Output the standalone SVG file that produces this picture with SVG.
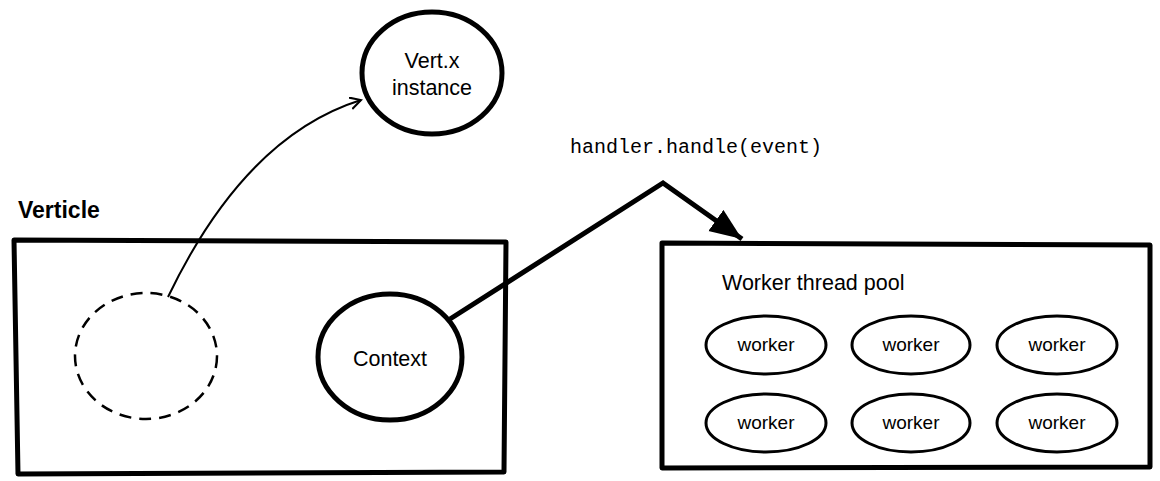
<svg xmlns="http://www.w3.org/2000/svg" width="1160" height="481" viewBox="0 0 1160 481">
<style>
.sans{font-family:"Liberation Sans",Arial,sans-serif;fill:#000}
.mono{font-family:"Liberation Mono","Courier New",monospace;fill:#000}
.box{fill:none;stroke:#000;stroke-width:5;stroke-linejoin:round;stroke-linecap:round}
.thick{fill:none;stroke:#000;stroke-width:5}
.worker{fill:none;stroke:#000;stroke-width:3}
.wl{font-size:19px}
</style>
<defs>
<marker id="open" markerWidth="14" markerHeight="14" refX="11" refY="6" orient="auto" markerUnits="userSpaceOnUse">
<path d="M0,0 L11,6 L0,12" fill="none" stroke="#000" stroke-width="2"/>
</marker>
<marker id="solid" markerWidth="34" markerHeight="28" refX="32" refY="13" orient="auto" markerUnits="userSpaceOnUse">
<path d="M0,0 L32,13 L0,26 Z" fill="#000"/>
</marker>
</defs>
<g id="verticle">
<text class="sans" x="18" y="218" font-size="23" font-weight="bold">Verticle</text>
<path class="box" d="M14,240 L506,242 L504,472 L18,474 Z"/>
</g>
<g id="deployed">
<ellipse cx="146" cy="356" rx="71" ry="63" fill="none" stroke="#000" stroke-width="2.5" stroke-dasharray="12,8"/>
</g>
<g id="context">
<ellipse class="thick" cx="390" cy="357" rx="72" ry="63"/>
<text class="sans" x="390" y="366" font-size="21.5" text-anchor="middle">Context</text>
</g>
<g id="vertx">
<ellipse class="thick" cx="432" cy="73" rx="70" ry="61"/>
<text class="sans" x="432" y="68" font-size="21.5" text-anchor="middle">Vert.x</text>
<text class="sans" x="432" y="95" font-size="21.5" text-anchor="middle">instance</text>
</g>
<g id="pool">
<path class="box" d="M662,243 L1150,245 L1150,467 L662,468 Z"/>
<text class="sans" x="722" y="290" font-size="21.5">Worker thread pool</text>
<ellipse class="worker" cx="766" cy="345" rx="60" ry="29"/>
<ellipse class="worker" cx="911" cy="345" rx="59" ry="29"/>
<ellipse class="worker" cx="1057" cy="345" rx="60" ry="29"/>
<ellipse class="worker" cx="766" cy="423" rx="60" ry="29"/>
<ellipse class="worker" cx="911" cy="423" rx="59" ry="29"/>
<ellipse class="worker" cx="1057" cy="423" rx="60" ry="29"/>
<text class="sans wl" x="766" y="351" text-anchor="middle">worker</text>
<text class="sans wl" x="911" y="351" text-anchor="middle">worker</text>
<text class="sans wl" x="1057" y="351" text-anchor="middle">worker</text>
<text class="sans wl" x="766" y="429" text-anchor="middle">worker</text>
<text class="sans wl" x="911" y="429" text-anchor="middle">worker</text>
<text class="sans wl" x="1057" y="429" text-anchor="middle">worker</text>
</g>
<g id="connectors">
<path d="M168,297 C205,220 265,130 361,100" fill="none" stroke="#000" stroke-width="2" marker-end="url(#open)"/>
<path d="M450,319 L663,183 L742,239" fill="none" stroke="#000" stroke-width="5" stroke-linejoin="miter" marker-end="url(#solid)"/>
<text class="mono" x="570" y="153" font-size="20">handler.handle(event)</text>
</g>
</svg>
